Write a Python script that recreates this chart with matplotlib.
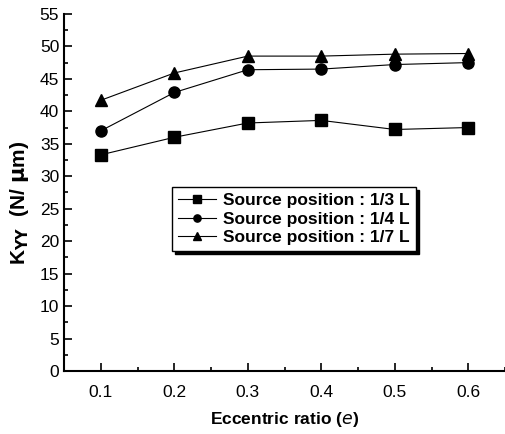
import matplotlib
matplotlib.use("Agg")
import matplotlib.pyplot as plt
from matplotlib.ticker import MultipleLocator

plt.rcParams["font.family"] = ["Liberation Sans", "DejaVu Sans"]

ecc = [0.1, 0.2, 0.3, 0.4, 0.5, 0.6]
k_13 = [33.3, 36.0, 38.2, 38.6, 37.2, 37.5]
k_14 = [37.0, 42.9, 46.4, 46.5, 47.2, 47.5]
k_17 = [41.7, 45.9, 48.5, 48.5, 48.8, 48.9]
labels = ["Source position : 1/3 L", "Source position : 1/4 L", "Source position : 1/7 L"]

fig = plt.figure(figsize=(5.05, 4.34), dpi=100)
ax = fig.add_axes([0.127, 0.145, 0.873, 0.823])

for y, m, lab in zip([k_13, k_14, k_17], ["s", "o", "^"], labels):
    ax.plot(ecc, y, color="black", lw=0.8, marker=m, ms=8, label=lab)

ax.set_xlim(0.05, 0.65)
ax.set_ylim(0, 55)
ax.xaxis.set_minor_locator(MultipleLocator(0.05))
ax.yaxis.set_major_locator(MultipleLocator(5))
ax.yaxis.set_minor_locator(MultipleLocator(2.5))
ax.set_xticks(ecc)
ax.set_xticklabels(["0.1", "0.2", "0.3", "0.4", "0.5", "0.6"])
ax.tick_params(which="both", direction="in", width=1.2, labelsize=12.5)
ax.tick_params(which="major", length=6)
ax.tick_params(which="minor", length=3)
ax.tick_params(axis="x", pad=10)
for s in ["top", "right"]:
    ax.spines[s].set_visible(False)
for s in ["left", "bottom"]:
    ax.spines[s].set_linewidth(1.5)

ax.set_xlabel(r"Eccentric ratio ($\mathit{e}$)", fontsize=12.5, fontweight="bold")
ax.xaxis.set_label_coords(0.5, -0.11)
ax.set_ylabel(r"K$_{\mathbf{YY}}$  (N/ $\mathbf{\mu}$m)", fontsize=15, fontweight="bold")
ax.yaxis.set_label_coords(-0.075, 0.47)

leg = ax.legend(loc="upper left", bbox_to_anchor=(0.225, 0.54),
                prop={"weight": "bold", "size": 12.5}, frameon=True, fancybox=False,
                shadow={"color": "black", "alpha": 1}, markerscale=0.65,
                handlelength=2.2, borderpad=0.35, labelspacing=0.2, handletextpad=0.4)
leg.get_frame().set_edgecolor("black")
leg.get_frame().set_linewidth(1.0)

fig.savefig("out.png", dpi=100)
